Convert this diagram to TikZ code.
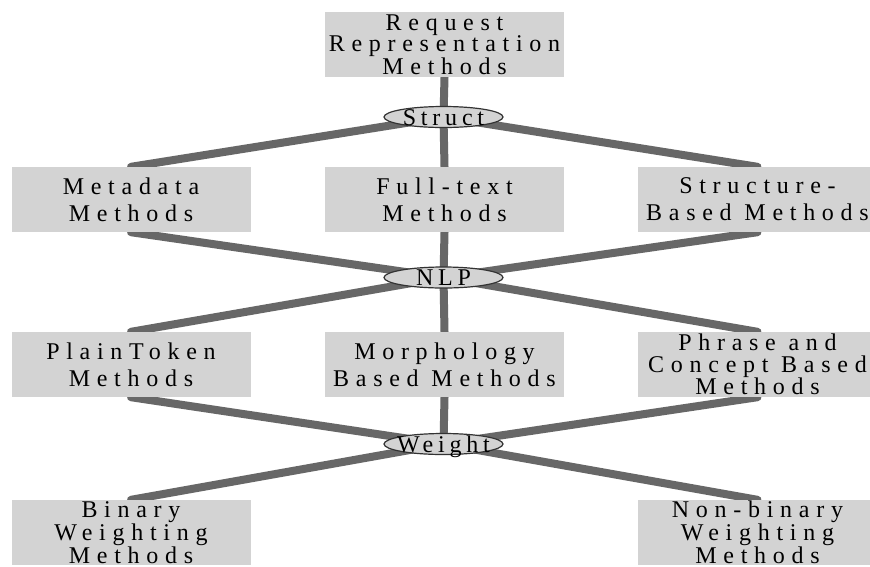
\documentclass[tikz,border=0pt]{standalone}
\usepackage{fontspec}
\usepackage{tikz}
\usepackage{xcolor}
\usetikzlibrary{shapes.geometric}
\newfontfamily\spacedserif[LetterSpace=28]{Liberation Serif}
\newfontfamily\facetserif[LetterSpace=20]{Liberation Serif}
\definecolor{boxgray}{HTML}{D3D3D3}
\definecolor{linkgray}{HTML}{676767}
\definecolor{rimgray}{HTML}{333333}
\pgfdeclarelayer{background}
\pgfsetlayers{background,main}
\tikzset{
    method-box/.style = {fill=boxgray, rectangle, minimum width=239pt, minimum height=65pt, inner sep=0pt, align=center, font=\spacedserif\fontsize{24}{27}\selectfont},
    three-line-box/.style = {method-box, font=\spacedserif\fontsize{24}{21.5}\selectfont},
    facet/.style = {draw=rimgray, fill=boxgray, ellipse, line width=1.2pt, minimum width=119pt, minimum height=21pt, inner sep=0pt},
    facet-text/.style = {inner sep=0pt, text height=16pt, text depth=0pt, font=\facetserif\fontsize{24}{24}\selectfont},
    link/.style = {draw=linkgray, line width=8pt, line cap=round},
}

\begin{document}
\begin{tikzpicture}[x=1pt, y=-1pt]
\useasboundingbox (0,0) rectangle (870,566);

% top
\node [three-line-box] (request) at (444.5,44.5) {Request\\Representation\\Methods};
\node [facet] (struct) at (443.5,117) {};
\node [facet-text] (struct-text) at (struct.center) {Struct};

% first level
\node [method-box] (metadata) at (131,199.5) {Metadata\\Methods};
\node [method-box] (fulltext) at (444.5,199.5) {Full-text\\Methods};
\node [method-box] (structure) at (757.5,199.5) {Structure-\\Based Methods};
\node [facet] (nlp) at (443.5,277.5) {};
\node [facet-text] (nlp-text) at (nlp.center) {NLP};

% second level
\node [method-box] (plaintoken) at (131,364.5) {PlainToken\\Methods};
\node [method-box] (morphology) at (444.5,364.5) {Morphology\\Based Methods};
\node [three-line-box] (phrase) at (757.5,364.5) {Phrase and\\Concept Based\\Methods};
\node [facet] (weight) at (443.5,444) {};
\node [facet-text] (weight-text) at (weight.center) {Weight};

% weighting
\node [three-line-box] (binary) at (131,532.5) {Binary\\Weighting\\Methods};
\node [three-line-box] (nonbinary) at (757.5,532.5) {Non-binary\\Weighting\\Methods};

\begin{pgfonlayer}{background}
\fill [white] (0,0) rectangle (870,566);
\draw [link] (request.south) -- (struct.center);
\foreach \n in {metadata, fulltext, structure} {
    \draw [link] (struct.center) -- (\n.north);
    \draw [link] (\n.south) -- (nlp.center);
}
\foreach \n in {plaintoken, morphology, phrase} {
    \draw [link] (nlp.center) -- (\n.north);
    \draw [link] (\n.south) -- (weight.center);
}
\draw [link] (weight.center) -- (binary.north);
\draw [link] (weight.center) -- (nonbinary.north);
\end{pgfonlayer}
\end{tikzpicture}
\end{document}
